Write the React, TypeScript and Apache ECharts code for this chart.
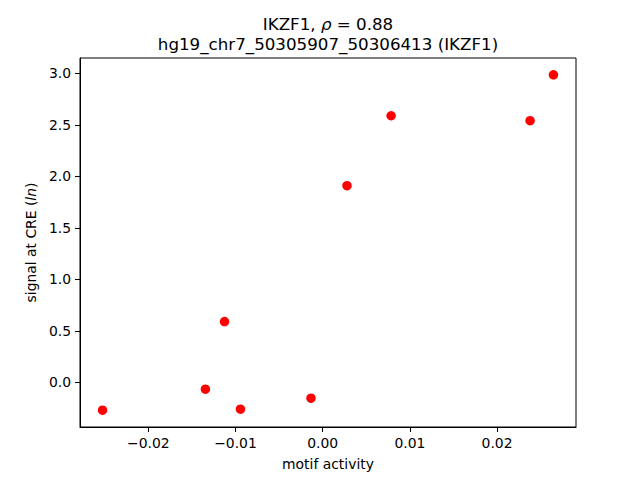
import React, { useEffect, useRef } from "react";
import * as echarts from "echarts";

const motifActivity = [-0.02525, -0.01345, -0.01126, -0.00943, -0.00134, 0.00279, 0.00785, 0.02379, 0.02647];
const signalAtCRE = [-0.272, -0.068, 0.589, -0.262, -0.155, 1.91, 2.589, 2.541, 2.987];
const xTicks = [-0.02, -0.01, 0, 0.01, 0.02];
const yTicks = [0, 0.5, 1, 1.5, 2, 2.5, 3];
const titleLine1Gene = "IKZF1";
const titleRho = "0.88";
const titleLine2 = "hg19_chr7_50305907_50306413 (IKZF1)";

const FONT = "DejaVu Sans";

function fmtX(v: number) {
  const s = Math.abs(v).toFixed(2);
  return v < -1e-12 ? "\u2212" + s : s;
}
function fmtY(v: number) {
  const s = Math.abs(v).toFixed(1);
  return v < -1e-12 ? "\u2212" + s : s;
}

export default function App() {
  const ref = useRef<HTMLDivElement>(null);
  useEffect(() => {
    if (!ref.current) return;
    const chart = echarts.init(ref.current, null, { renderer: "svg" });
    const xmin = Math.min(...motifActivity), xmax = Math.max(...motifActivity);
    const ymin = Math.min(...signalAtCRE), ymax = Math.max(...signalAtCRE);
    const dx = (xmax - xmin) * 0.05, dy = (ymax - ymin) * 0.05;
    chart.setOption({
      animation: false,
      backgroundColor: "#ffffff",
      grid: {
        left: 80, right: 64, top: 58, bottom: 53,
        show: true, borderColor: "#000", borderWidth: 1, backgroundColor: "transparent",
      },
      graphic: [
        {
          type: "text", x: 328, y: 24,
          style: {
            text: `${titleLine1Gene}, {i|ρ} = ${titleRho}`,
            font: `16.7px ${FONT}`, fill: "#000", align: "center", verticalAlign: "middle",
            rich: { i: { fontStyle: "italic", fontSize: 16.7, fontFamily: FONT, fill: "#000" } },
          },
        },
        {
          type: "text", x: 328, y: 44,
          style: {
            text: titleLine2, font: `16.7px ${FONT}`, fill: "#000", align: "center", verticalAlign: "middle",
          },
        },
      ],
      xAxis: {
        type: "value",
        min: xmin - dx, max: xmax + dx,
        splitLine: { show: false },
        axisLine: { show: true, onZero: false, lineStyle: { color: "#000", width: 1 } },
        axisTick: { show: true, length: 5, lineStyle: { color: "#000" }, customValues: xTicks },
        axisLabel: { customValues: xTicks, formatter: fmtX, color: "#000", fontFamily: FONT, fontSize: 13.9, margin: 9 },
        name: "motif activity",
        nameLocation: "middle",
        nameGap: 30,
        nameTextStyle: { color: "#000", fontFamily: FONT, fontSize: 13.9 },
      },
      yAxis: {
        type: "value",
        min: ymin - dy, max: ymax + dy,
        splitLine: { show: false },
        axisLine: { show: true, onZero: false, lineStyle: { color: "#000", width: 1 } },
        axisTick: { show: true, length: 5, lineStyle: { color: "#000" }, customValues: yTicks },
        axisLabel: { customValues: yTicks, formatter: fmtY, color: "#000", fontFamily: FONT, fontSize: 13.9, margin: 9 },
        name: "signal at CRE ({i|ln})",
        nameLocation: "middle",
        nameGap: 40,
        nameTextStyle: {
          color: "#000", fontFamily: FONT, fontSize: 13.9,
          rich: { i: { fontStyle: "italic", color: "#000", fontFamily: FONT, fontSize: 13.9 } },
        },
      },
      series: [
        {
          type: "scatter",
          data: motifActivity.map((x, i) => [x, signalAtCRE[i]]),
          symbol: "circle",
          symbolSize: 9.5,
          itemStyle: { color: "#ff0000", opacity: 1 },
        },
      ],
    });
    return () => chart.dispose();
  }, []);
  return <div ref={ref} style={{ width: 640, height: 480, position: "absolute", left: 0, top: 0 }} />;
}
